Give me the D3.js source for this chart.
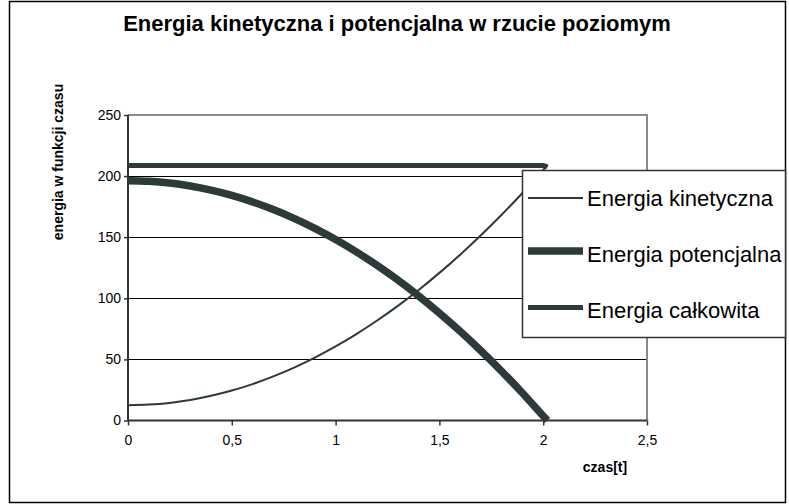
<!DOCTYPE html>
<html>
<head>
<meta charset="utf-8">
<script src="https://cdn.jsdelivr.net/npm/d3@7"></script>
<style>
  body { margin: 0; background: #fff; }
  text { font-family: "Liberation Sans", Arial, sans-serif; fill: #000; }
</style>
</head>
<body>
<div id="chart"></div>
<script>
// time points [s]
var czas = [0, 0.1, 0.2, 0.3, 0.4, 0.5, 0.6, 0.7, 0.8, 0.9, 1.0,
            1.1, 1.2, 1.3, 1.4, 1.5, 1.6, 1.7, 1.8, 1.9, 2.0, 2.02];
var kinetyczna = [12.5, 13.0, 14.4, 16.8, 20.2, 24.5, 29.8, 36.1, 43.3, 51.5, 60.6,
                  70.7, 81.8, 93.8, 106.8, 120.8, 135.7, 151.6, 168.4, 186.2, 205.0, 208.7];
var potencjalna = [196.2, 195.7, 194.3, 191.9, 188.5, 184.2, 178.9, 172.6, 165.4, 157.2, 148.1,
                   138.0, 126.9, 114.9, 101.9, 87.9, 73.0, 57.1, 40.3, 22.5, 3.7, 0];
var calkowita = [208.7, 208.7, 208.7, 208.7, 208.7, 208.7, 208.7, 208.7, 208.7, 208.7, 208.7,
                 208.7, 208.7, 208.7, 208.7, 208.7, 208.7, 208.7, 208.7, 208.7, 208.7, 207.5];
var xTicks = [0, 0.5, 1, 1.5, 2, 2.5];
var xTickLabels = ["0", "0,5", "1", "1,5", "2", "2,5"];
var yTicks = [0, 50, 100, 150, 200, 250];
var seriesNames = ["Energia kinetyczna", "Energia potencjalna", "Energia całkowita"];

var W = 789, H = 504;
var plot = { left: 128, right: 647, top: 115, bottom: 420.5 };
var lineColor = "#2c3a3a";
var widths = [2, 7.5, 5];

var svg = d3.select("#chart")
  .append("svg")
  .attr("width", W)
  .attr("height", H);

// outer frame
svg.append("rect")
  .attr("x", 9.5).attr("y", 1.5)
  .attr("width", 776).attr("height", 501)
  .attr("fill", "#fff")
  .attr("stroke", "#000")
  .attr("stroke-width", 1.5);

var x = d3.scaleLinear().domain([0, 2.5]).range([plot.left, plot.right]);
var y = d3.scaleLinear().domain([0, 250]).range([plot.bottom, plot.top]);

// gridlines
svg.append("g")
  .selectAll("line")
  .data(yTicks.filter(function(d){ return d > 0 && d < 250; }))
  .enter().append("line")
  .attr("x1", plot.left).attr("x2", plot.right)
  .attr("y1", function(d){ return Math.round(y(d)) + 0.5; })
  .attr("y2", function(d){ return Math.round(y(d)) + 0.5; })
  .attr("stroke", "#000")
  .attr("stroke-width", 1);

// plot area border (top + right, gray)
svg.append("path")
  .attr("d", "M" + plot.left + "," + y(250) + "H" + x(2.5) + "V" + y(0))
  .attr("fill", "none")
  .attr("stroke", "#8a8a8a")
  .attr("stroke-width", 2);

// axes
var xAxis = d3.axisBottom(x)
  .tickValues(xTicks)
  .tickSize(5)
  .tickPadding(10)
  .tickFormat(function(d, i){ return xTickLabels[i]; });
var yAxis = d3.axisLeft(y)
  .tickValues(yTicks)
  .tickSize(4)
  .tickPadding(3);

var gx = svg.append("g")
  .attr("transform", "translate(0," + y(0) + ")")
  .call(xAxis);
var gy = svg.append("g")
  .attr("transform", "translate(" + x(0) + ",0)")
  .call(yAxis);

[gx, gy].forEach(function(g){
  g.select(".domain").attr("stroke", "#333").attr("stroke-width", 2);
  g.selectAll(".tick line").attr("stroke", "#333").attr("stroke-width", 1.5);
  g.selectAll(".tick text")
    .style("font-family", "'Liberation Sans', Arial, sans-serif")
    .style("font-size", "14px")
    .attr("fill", "#000");
});
gx.select(".domain").attr("d", "M" + x(0) + ",0H" + x(2.5));
gy.select(".domain").attr("d", "M0," + y(0) + "V" + y(250));

// series
var allSeries = [kinetyczna, potencjalna, calkowita];
var line = d3.line()
  .x(function(d){ return x(d[0]); })
  .y(function(d){ return y(d[1]); })
  .curve(d3.curveMonotoneX);

allSeries.forEach(function(vals, i){
  svg.append("path")
    .datum(czas.map(function(t, j){ return [t, vals[j]]; }))
    .attr("d", line)
    .attr("fill", "none")
    .attr("stroke", lineColor)
    .attr("stroke-width", widths[i])
    .attr("stroke-linejoin", "round");
});

// titles
svg.append("text")
  .attr("x", 397)
  .attr("y", 31)
  .attr("text-anchor", "middle")
  .style("font-size", "22px")
  .style("font-weight", "bold")
  .text("Energia kinetyczna i potencjalna w rzucie poziomym");

svg.append("text")
  .attr("transform", "translate(63,162) rotate(-90)")
  .attr("text-anchor", "middle")
  .style("font-size", "14px")
  .style("font-weight", "bold")
  .text("energia w funkcji czasu");

svg.append("text")
  .attr("x", 605)
  .attr("y", 472)
  .attr("text-anchor", "middle")
  .style("font-size", "14px")
  .style("font-weight", "bold")
  .text("czas[t]");

// legend
var legend = svg.append("g").attr("class", "legend");
legend.append("rect")
  .attr("x", 522.5).attr("y", 170.5)
  .attr("width", 263).attr("height", 167)
  .attr("fill", "#fff")
  .attr("stroke", "#333")
  .attr("stroke-width", 1.5);

var legendRowY = [198, 251, 307.5];
var legendTextY = [206, 262, 318];
seriesNames.forEach(function(name, i){
  legend.append("line")
    .attr("x1", 528).attr("x2", 583)
    .attr("y1", legendRowY[i]).attr("y2", legendRowY[i])
    .attr("stroke", lineColor)
    .attr("stroke-width", widths[i]);
  legend.append("text")
    .attr("x", 587)
    .attr("y", legendTextY[i])
    .style("font-size", "22px")
    .text(name);
});
</script>
</body>
</html>
